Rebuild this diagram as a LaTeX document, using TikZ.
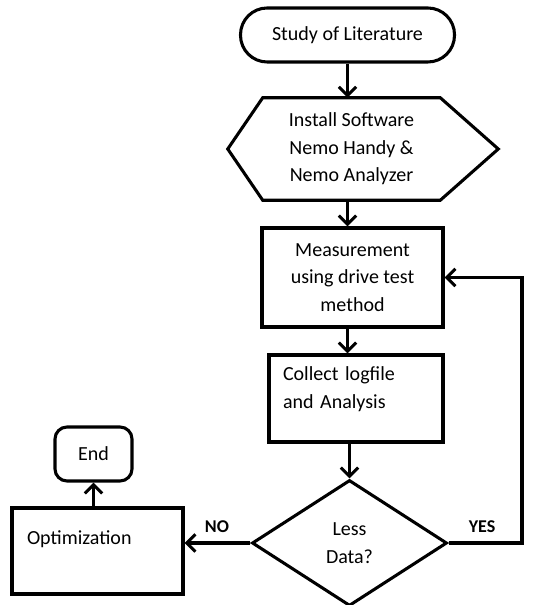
\documentclass[tikz,border=0pt]{standalone}
\usepackage{fontspec}
\setmainfont{Carlito}
\usetikzlibrary{arrows.meta,shapes.geometric}

\tikzset{
	>={Straight Barb[length=6.5pt,width=13pt]},
	txt/.style={font=\fontsize{15}{20.6}\selectfont},
	box/.style={draw, line width=2.3pt, txt, align=center, inner sep=0pt},
	flow/.style={->, line width=2.3pt},
	answer/.style={font=\fontsize{13.5}{16}\selectfont\bfseries}
}

\begin{document}
\begin{tikzpicture}[x=0.75pt, y=0.75pt]
	\useasboundingbox (0,0) rectangle (533,605);
	% Inicio
		\node[box, rounded corners=20pt, minimum width=160.5pt, minimum height=40.5pt] (study) at (347.5,570) {Study of Literature};
	% Software
		\node[txt, align=center, minimum width=132.75pt, minimum height=76.5pt, inner sep=0pt] (install) at (351.5,456) {Install Software\\Nemo Handy \&\\Nemo Analyzer};
		\draw[line width=2.3pt] (install.north west) -- (install.north east) -- ([xshift=43.5pt]install.east) -- (install.south east) -- (install.south west) -- ([xshift=-26.25pt]install.west) -- cycle;
	% Medicion
		\node[box, minimum width=135.75pt, minimum height=74.25pt] (measure) at (352.5,327.5) {Measurement\\using drive test\\method};
	% Analisis
		\node[box, align=left, text width=109.5pt, inner xsep=10.5pt, text depth=37pt, minimum height=65.25pt] (collect) at (356,206.5) {Collect logfile\\and Analysis};
	% Decision
		\node[box, shape=diamond, minimum width=146.25pt, minimum height=94.5pt, font=\fontsize{15}{21}\selectfont] (less) at (349.5,62) {Less\\Data?};
	% Optimizacion y fin
		\node[box, align=left, text width=105.75pt, inner xsep=11.25pt, text depth=20pt, minimum height=64.5pt] (opt) at (97.5,54) {Optimization};
		\node[box, rounded corners=9pt, minimum width=57.75pt, minimum height=40.5pt] (end) at (93.5,151) {End};
	% Flechas
		\draw[flow] (study.south) -- (study.south |- install.north);
		\draw[flow] (install.south -| study.south) -- (study.south |- measure.north);
		\draw[flow] (measure.south -| study.south) -- (study.south |- collect.north);
		\draw[flow] (collect.south -| less.north) -- (less.north);
		\draw[flow] (less.west) -- (less.west -| opt.east);
		\draw[flow] (end.south |- opt.north) -- (end.south);
		\coordinate (yesturn) at (522,62);
		\draw[flow] (less.east) -- (yesturn) |- (measure.east);
	% Etiquetas
		\node[answer] (no) at (217,78) {NO};
		\node[answer] (yes) at (482,78) {YES};
\end{tikzpicture}
\end{document}
